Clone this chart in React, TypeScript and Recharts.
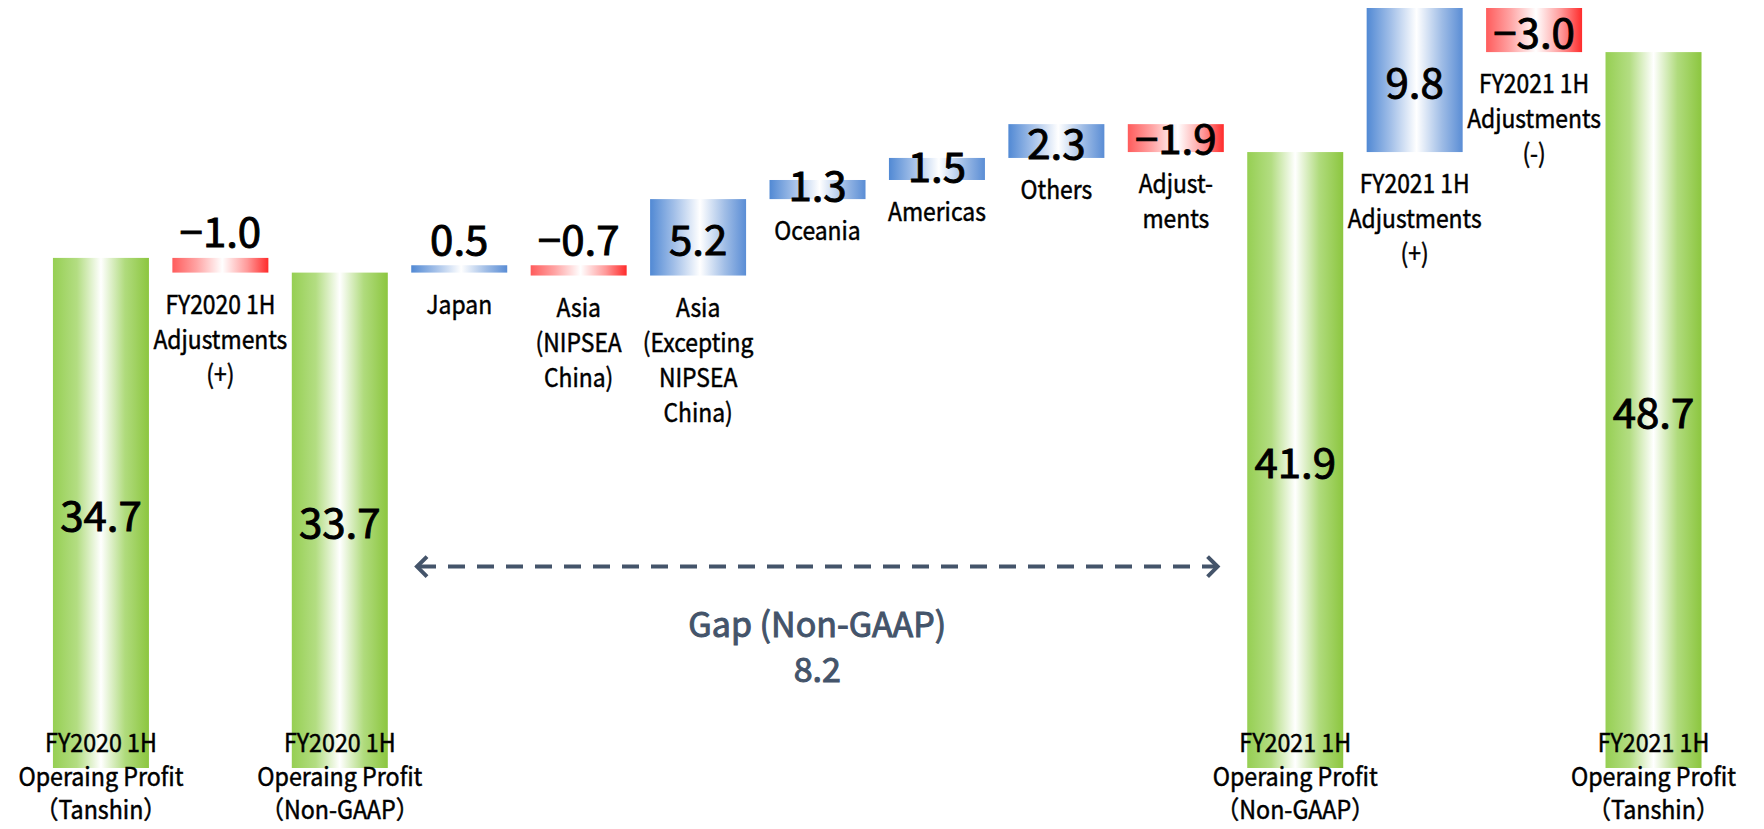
import React from 'react';
import { BarChart, Bar, XAxis, YAxis, LabelList, ReferenceLine } from 'recharts';

// category labels, one entry per line of text
const categoryLines: string[][] = [
  ['FY2020 1H', 'Operaing Profit', '（Tanshin）'],
  ['FY2020 1H', 'Adjustments', '(+)'],
  ['FY2020 1H', 'Operaing Profit', '（Non-GAAP）'],
  ['Japan'],
  ['Asia', '(NIPSEA', 'China)'],
  ['Asia', '(Excepting', 'NIPSEA', 'China)'],
  ['Oceania'],
  ['Americas'],
  ['Others'],
  ['Adjust-', 'ments'],
  ['FY2021 1H', 'Operaing Profit', '（Non-GAAP）'],
  ['FY2021 1H', 'Adjustments', '(+)'],
  ['FY2021 1H', 'Adjustments', '(-)'],
  ['FY2021 1H', 'Operaing Profit', '（Tanshin）'],
];

const values = [34.7, -1.0, 33.7, 0.5, -0.7, 5.2, 1.3, 1.5, 2.3, -1.9, 41.9, 9.8, -3.0, 48.7];

// 'total' bars stand on zero, 'delta' bars float on the running total
const kinds = ['total', 'delta', 'total', 'delta', 'delta', 'delta', 'delta', 'delta', 'delta', 'delta', 'total', 'delta', 'delta', 'total'];

const gapLabel = ['Gap (Non-GAAP)', '8.2'];
const gapLevel = 13.7;

const FONT = "'Noto Sans CJK JP', 'Noto Sans', sans-serif";
const SLATE = '#44546a';

let running = 0;
const rows = values.map((v, i) => {
  const name = categoryLines[i].join(' ');
  if (kinds[i] === 'total') {
    running = v;
    return { name, value: v, kind: 'total', range: [0, v] };
  }
  const start = running;
  running = start + v;
  return { name, value: v, kind: v >= 0 ? 'up' : 'down', range: [Math.min(start, running), Math.max(start, running)] };
});

const fillFor = (kind: string) =>
  kind === 'total' ? 'url(#gGreen)' : kind === 'up' ? 'url(#gBlue)' : 'url(#gRed)';

const BarShape = (props: any) => {
  const { x, y, width, height, payload } = props;
  const top = Math.min(y, y + height);
  const h = Math.abs(height);
  return <rect x={x} y={top} width={width} height={h} fill={fillFor(payload.kind)} />;
};

const fmt = (v: number) => (v < 0 ? '−' + Math.abs(v).toFixed(1) : v.toFixed(1));

const Txt = ({ cx, cy, text, size, sx = 1, fill = '#000', sw = 0 }: any) => (
  <g transform={`translate(${cx},${cy}) scale(${sx},1)`}>
    <text
      x={0}
      y={0}
      textAnchor="middle"
      dominantBaseline="central"
      fontFamily={FONT}
      fontSize={size}
      fill={fill}
      stroke={sw ? fill : 'none'}
      strokeWidth={sw}
    >
      {text}
    </text>
  </g>
);

const BarLabels = (props: any) => {
  const vb = props.viewBox || {};
  const x = props.x ?? vb.x;
  const y = props.y ?? vb.y;
  const width = props.width ?? vb.width;
  const height = props.height ?? vb.height;
  const index = props.index;
  if (x == null || index == null) return null;
  const row = rows[index];
  const top = Math.min(y, y + height);
  const bottom = Math.max(y, y + height);
  const cx = x + width / 2;
  const lines = categoryLines[index];
  const out: any[] = [];
  if (row.kind === 'total') {
    out.push(<Txt key="v" cx={cx} cy={(top + bottom) / 2} text={fmt(row.value)} size={40} sx={1.05} sw={0.9} />);
    [-27, 7, 40].forEach((d, j) =>
      out.push(<Txt key={'c' + j} cx={cx} cy={bottom + d} text={lines[j]} size={25} sx={0.93} sw={0.5} />)
    );
  } else {
    const h = bottom - top;
    const vy = h < 16 ? top - 28 : h < 30 ? bottom - 16 : (top + bottom) / 2;
    out.push(<Txt key="v" cx={cx} cy={vy} text={fmt(row.value)} size={40} sx={1.05} sw={0.9} />);
    lines.forEach((t, j) =>
      out.push(<Txt key={'c' + j} cx={cx} cy={bottom + 30 + j * 35} text={t} size={26} sx={0.88} sw={0.5} />)
    );
  }
  return <g>{out}</g>;
};

const GapArrow = (props: any) => {
  const { x1, y1, x2 } = props;
  if (x1 == null) return null;
  const a = x1 - 44;
  const b = x2 + 44;
  const mid = (a + b) / 2;
  return (
    <g>
      <line x1={a + 4} y1={y1} x2={b - 4} y2={y1} stroke={SLATE} strokeWidth={4} strokeDasharray="17 12" />
      <polyline points={`${a + 12},${y1 - 10} ${a + 2},${y1} ${a + 12},${y1 + 10}`} fill="none" stroke={SLATE} strokeWidth={4} />
      <polyline points={`${b - 12},${y1 - 10} ${b - 2},${y1} ${b - 12},${y1 + 10}`} fill="none" stroke={SLATE} strokeWidth={4} />
      <Txt cx={mid} cy={y1 + 56} text={gapLabel[0]} size={34} sx={1.0} fill={SLATE} sw={1} />
      <Txt cx={mid} cy={y1 + 101} text={gapLabel[1]} size={34} sx={1.0} fill={SLATE} sw={1} />
    </g>
  );
};

export default function App() {
  return (
    <div style={{ width: 1764, height: 829, background: '#fff' }}>
      <style>{'body{margin:0}'}</style>
      <BarChart
        width={1764}
        height={829}
        data={rows}
        margin={{ top: 8, right: 51, bottom: 61, left: 41 }}
        barCategoryGap="10%"
      >
        <defs>
          <linearGradient id="gGreen" x1="0" y1="0" x2="1" y2="0">
            <stop offset="0" stopColor="#96cf53" />
            <stop offset="0.25" stopColor="#b3dd82" />
            <stop offset="0.5" stopColor="#ffffff" />
            <stop offset="0.75" stopColor="#b0db7d" />
            <stop offset="1" stopColor="#8cc63f" />
          </linearGradient>
          <linearGradient id="gBlue" x1="0" y1="0" x2="1" y2="0">
            <stop offset="0" stopColor="#5189d4" />
            <stop offset="0.25" stopColor="#a2bfe8" />
            <stop offset="0.52" stopColor="#ffffff" />
            <stop offset="0.78" stopColor="#a0bde6" />
            <stop offset="1" stopColor="#5a8dd5" />
          </linearGradient>
          <linearGradient id="gRed" x1="0" y1="0" x2="1" y2="0">
            <stop offset="0" stopColor="#ff5c5c" />
            <stop offset="0.25" stopColor="#ffa3a3" />
            <stop offset="0.52" stopColor="#ffffff" />
            <stop offset="0.78" stopColor="#ff9a9a" />
            <stop offset="1" stopColor="#ff2b2b" />
          </linearGradient>
        </defs>
        <XAxis dataKey="name" hide />
        <YAxis hide domain={[0, 51.7]} allowDataOverflow />
        <ReferenceLine
          segment={[
            { x: rows[3].name, y: gapLevel },
            { x: rows[9].name, y: gapLevel },
          ]}
          ifOverflow="visible"
          shape={GapArrow}
        />
        <Bar dataKey="range" shape={BarShape} isAnimationActive={false}>
          <LabelList dataKey="value" content={BarLabels} />
        </Bar>
      </BarChart>
    </div>
  );
}
